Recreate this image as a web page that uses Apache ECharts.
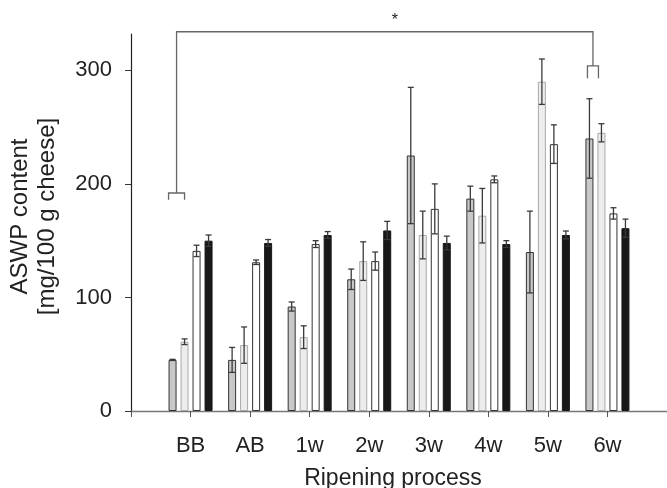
<!DOCTYPE html>
<html>
<head>
<meta charset="utf-8">
<script src="https://cdn.jsdelivr.net/npm/echarts@6/dist/echarts.min.js"></script>
<style>
  html, body { margin: 0; padding: 0; background: #fff; }
  #chart { width: 667px; height: 488px; }
</style>
</head>
<body>
<div id="chart"></div>
<script>
// values (mg/100 g cheese), mean and +/- error
var categories = ['BB', 'AB', '1w', '2w', '3w', '4w', '5w', '6w'];
var grayValues = [45, 45, 92, 116, 225, 187, 140, 240];
var grayErrors = [0.5, 11, 4, 9, 60, 11, 36, 35];
var lightValues = [61, 58, 65, 132, 155, 172, 290, 245];
var lightErrors = [2.5, 16, 10, 17, 21, 24, 20, 8];
var whiteValues = [141, 131, 147, 132, 178, 204, 235, 174];
var whiteErrors = [5, 2, 3, 8, 22, 3, 17, 5];
var blackValues = [150, 148, 155, 159, 148, 147, 155, 161];
var blackErrors = [5, 3, 3, 8, 6, 3, 3.5, 8];
var yTicks = [0, 100, 200, 300];

// significance bracket between BB and 6w
var sigFrom = 'BB';
var sigTo = '6w';
var sigLeftLevels = [186, 192];
var sigRightLevels = [293, 304];
var sigTopLevel = 334;
var sigLabel = '*';

var BAR_W = 8;
var BAR_GAP = 4;
var FONT = '"Liberation Sans", Arial, sans-serif';

var chart = echarts.init(document.getElementById('chart'));

var groups = [
  { values: grayValues, errors: grayErrors, fill: '#c8c8c8', stroke: '#333333' },
  { values: lightValues, errors: lightErrors, fill: '#ededed', stroke: '#a8a8a8' },
  { values: whiteValues, errors: whiteErrors, fill: '#ffffff', stroke: '#333333' },
  { values: blackValues, errors: blackErrors, fill: '#181818', stroke: '#181818' }
];

function offsetOf(k) {
  return (k - (groups.length - 1) / 2) * (BAR_W + BAR_GAP);
}

var series = [];
groups.forEach(function (g, k) {
  series.push({
    type: 'bar',
    barWidth: BAR_W,
    barGap: (BAR_GAP / BAR_W * 100) + '%',
    data: g.values.map(function (v, i) { return [i + 1, v]; }),
    itemStyle: { color: g.fill, borderColor: g.stroke, borderWidth: 1 },
    silent: true
  });
});

groups.forEach(function (g, k) {
  series.push({
    type: 'custom',
    data: g.values.map(function (v, i) { return [i + 1, v, g.errors[i]]; }),
    encode: { x: 0, y: 1 },
    z: 5,
    silent: true,
    renderItem: function (params, api) {
      var x = api.value(0), y = api.value(1), e = api.value(2);
      var hi = api.coord([x, y + e]);
      var lo = api.coord([x, y - e]);
      var cx = hi[0] + offsetOf(k);
      var st = { stroke: '#3a3a3a', lineWidth: 1.3 };
      return {
        type: 'group',
        children: [
          { type: 'line', shape: { x1: cx, y1: hi[1], x2: cx, y2: lo[1] }, style: st },
          { type: 'line', shape: { x1: cx - 3, y1: hi[1], x2: cx + 3, y2: hi[1] }, style: st },
          { type: 'line', shape: { x1: cx - 3, y1: lo[1], x2: cx + 3, y2: lo[1] }, style: st }
        ]
      };
    }
  });
});

series.push({
  type: 'custom',
  clip: false,
  silent: true,
  data: [[categories.indexOf(sigFrom) + 1, categories.indexOf(sigTo) + 1]],
  encode: { x: [0, 1] },
  renderItem: function (params, api) {
    var xa = api.value(0), xb = api.value(1);
    var a0 = api.coord([xa, sigLeftLevels[0]]);
    var a1 = api.coord([xa, sigLeftLevels[1]]);
    var b0 = api.coord([xb, sigRightLevels[0]]);
    var b1 = api.coord([xb, sigRightLevels[1]]);
    var top = api.coord([xa, sigTopLevel])[1];
    var la = a0[0] + offsetOf(0) - 4, ra = a0[0] + offsetOf(1);
    var lb = b0[0] + offsetOf(0) - 2, rb = b0[0] + offsetOf(1) - 3;
    var ma = (la + ra) / 2, mb = (lb + rb) / 2;
    var st = { stroke: '#666', lineWidth: 1.3, fill: null };
    return {
      type: 'group',
      children: [
        { type: 'polyline', shape: { points: [[la, a0[1]], [la, a1[1]], [ra, a1[1]], [ra, a0[1]]] }, style: st },
        { type: 'polyline', shape: { points: [[lb, b0[1]], [lb, b1[1]], [rb, b1[1]], [rb, b0[1]]] }, style: st },
        { type: 'polyline', shape: { points: [[ma, a1[1]], [ma, top], [mb, top], [mb, b1[1]]] }, style: st },
        { type: 'text', style: { text: sigLabel, x: (ma + mb) / 2 + 10, y: top - 11, align: 'center', verticalAlign: 'middle', font: '16px ' + FONT, fill: '#222' } }
      ]
    };
  }
});

var option = {
  animation: false,
  backgroundColor: '#fff',
  grid: { left: 131, right: 0, top: 34, bottom: 77, containLabel: false, outerBoundsMode: 'none' },
  xAxis: {
    type: 'value',
    min: 0,
    max: categories.length + 1,
    interval: 1,
    name: 'Ripening process',
    nameLocation: 'middle',
    nameGap: 56,
    nameTextStyle: { fontFamily: FONT, fontSize: 23, color: '#222', padding: [0, 12, 0, 0] },
    axisLine: { show: true, lineStyle: { color: '#777', width: 1.3 } },
    axisTick: { show: true, length: 6, lineStyle: { color: '#555' } },
    axisLabel: {
      fontFamily: FONT, fontSize: 22, color: '#222', margin: 24,
      formatter: function (v) { return categories[v - 1] || ''; }
    },
    splitLine: { show: false }
  },
  yAxis: {
    type: 'value',
    min: yTicks[0],
    max: 332,
    interval: yTicks[1] - yTicks[0],
    name: 'ASWP content\n[mg/100 g cheese]',
    nameLocation: 'middle',
    nameGap: 70,
    nameTextStyle: { fontFamily: FONT, fontSize: 24, color: '#222', lineHeight: 27, padding: [0, 0, 0, 12] },
    axisLine: { show: true, lineStyle: { color: '#222', width: 1.2 } },
    axisTick: { show: true, length: 6, lineStyle: { color: '#333' } },
    axisLabel: { fontFamily: FONT, fontSize: 22, color: '#222', margin: 19, showMaxLabel: false },
    splitLine: { show: false }
  },
  series: series
};

chart.setOption(option);
</script>
</body>
</html>
